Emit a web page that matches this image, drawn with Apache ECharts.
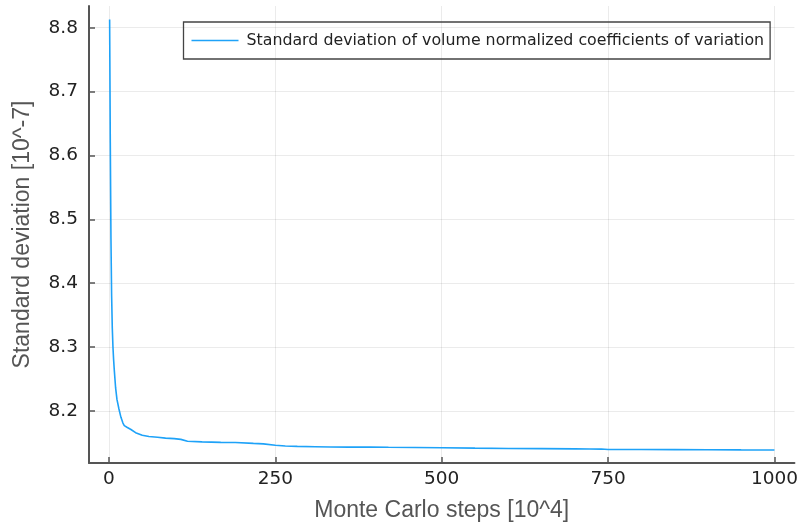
<!DOCTYPE html>
<html>
<head>
<meta charset="utf-8">
<script src="https://cdn.jsdelivr.net/npm/echarts@6/dist/echarts.min.js"></script>
<style>html,body{margin:0;padding:0;background:#fff}#c{width:801px;height:529px}</style>
</head>
<body>
<div id="c"></div>
<script>
const steps = [1,2,3,4,5,6,7,8,10,12,15,18,21,23,27,33,40,50,60,73,85,98,108,118,140,168,190,217,232,250,265,283,310,333,360,392,420,460,500,550,600,650,700,722,740,750,800,850,900,950,1000];
const stdDev = [8.813,8.62,8.47,8.38,8.33,8.30,8.28,8.264,8.236,8.218,8.203,8.190,8.181,8.177,8.1745,8.171,8.166,8.162,8.160,8.1588,8.1575,8.1566,8.1555,8.1525,8.1515,8.1508,8.1505,8.1492,8.1485,8.1462,8.1452,8.1445,8.144,8.1436,8.1434,8.1435,8.1432,8.1428,8.1424,8.1418,8.1413,8.141,8.1406,8.1404,8.1403,8.1397,8.1396,8.1394,8.1392,8.139,8.1389];
const xTicks = [0,250,500,750,1000];
const yTicks = [8.2,8.3,8.4,8.5,8.6,8.7,8.8];
const seriesName = 'Standard deviation of volume normalized coefficients of variation';

const chart = echarts.init(document.getElementById('c'), null, {renderer:'canvas'});
const axisLineStyle = {show:true,onZero:false,lineStyle:{color:'#555',width:2}};
const tickStyle = {show:true,inside:true,length:6,lineStyle:{color:'#555',width:1.5}};
const splitStyle = {show:true,lineStyle:{color:'rgba(0,0,0,0.08)',width:1}};
const nameStyle = {fontFamily:'Liberation Sans',fontSize:23,color:'#555'};
chart.setOption({
  animation:false,
  backgroundColor:'#fff',
  grid:{left:89,right:6,top:6,bottom:66,containLabel:false},
  legend:{
    show:true,left:183.5,top:22,
    data:[seriesName],
    icon:'rect',itemWidth:47,itemHeight:1.5,
    borderColor:'#444',borderWidth:1.3,borderRadius:0,
    padding:[10.5,6,10.5,8],
    textStyle:{fontFamily:'DejaVu Sans',fontSize:15.8,color:'#222',padding:[0,0,0,3]}
  },
  xAxis:{
    type:'value',min:-30,max:1030,
    name:'Monte Carlo steps [10^4]',nameLocation:'middle',nameGap:36,nameTextStyle:nameStyle,
    axisLine:axisLineStyle,
    axisTick:Object.assign({},tickStyle,{customValues:xTicks}),
    splitLine:splitStyle,
    axisLabel:{customValues:xTicks,fontFamily:'DejaVu Sans',fontSize:18.5,color:'#222',margin:7,
      formatter:v=>String(v)}
  },
  yAxis:{
    type:'value',min:8.1185,max:8.834,
    name:'Standard deviation [10^-7]',nameLocation:'middle',nameGap:55,nameRotate:90,nameTextStyle:nameStyle,
    axisLine:axisLineStyle,
    axisTick:Object.assign({},tickStyle,{customValues:yTicks}),
    splitLine:splitStyle,
    axisLabel:{customValues:yTicks,fontFamily:'DejaVu Sans',fontSize:18.5,color:'#222',margin:11,
      formatter:v=>Number(v).toFixed(1)}
  },
  series:[{
    name:seriesName,type:'line',
    data:steps.map((s,i)=>[s,stdDev[i]]),
    showSymbol:false,symbol:'none',
    lineStyle:{color:'#1EA2F8',width:1.6},
    itemStyle:{color:'#1EA2F8'}
  }]
});
</script>
</body>
</html>
